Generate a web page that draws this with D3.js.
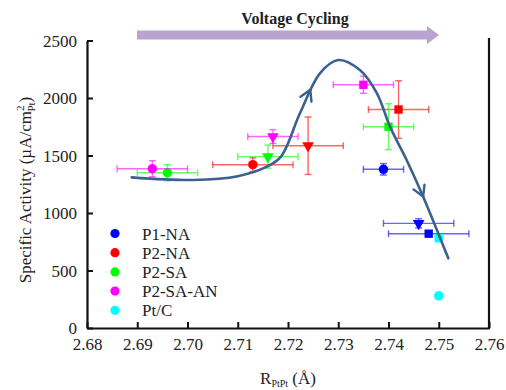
<!DOCTYPE html>
<html lang="en">
  <head>
    <meta charset="utf-8">
    <title>Specific activity vs R PtPt</title>
    <script src="https://d3js.org/d3.v7.min.js"></script>
    <style>
      body { margin: 0; background: #fff; }
      text { font-family: "Liberation Serif", "Times New Roman", serif; fill: #222; }
    </style>
  </head>
  <body>
    <script type="text/javascript">
      var w = 506;
      var h = 390;

      // data
      var seriesNames = ["P1-NA", "P2-NA", "P2-SA", "P2-SA-AN", "Pt/C"];
      var seriesColors = ["#0000ff", "#ff0000", "#00ff00", "#ff00ff", "#00ffff"];
      // each point: marker, R (A), activity, R error, activity error
      var p1na = [["circle", 2.739, 1380, 0.004, 50], ["tri", 2.746, 910, 0.007, 40], ["square", 2.748, 820, 0.008, 0]];
      var p2na = [["circle", 2.713, 1420, 0.008, 60], ["tri", 2.724, 1585, 0.007, 250], ["square", 2.742, 1900, 0.006, 250]];
      var p2sa = [["circle", 2.696, 1350, 0.006, 70], ["tri", 2.716, 1490, 0.006, 100], ["square", 2.740, 1750, 0.005, 200]];
      var p2saan = [["circle", 2.693, 1385, 0.007, 70], ["tri", 2.717, 1665, 0.005, 60], ["square", 2.735, 2115, 0.006, 75]];
      var ptc = [["square", 2.750, 780, 0, 0], ["circle", 2.750, 280, 0, 0]];
      var seriesData = [p1na, p2na, p2sa, p2saan, ptc];

      // trend curve drawn over the points
      var curvePts = [[2.6889, 1310], [2.7012, 1287], [2.7100, 1320], [2.7158, 1403], [2.7186, 1490],
                      [2.7224, 1870], [2.7264, 2217], [2.7300, 2330], [2.7343, 2243], [2.7377, 2041],
                      [2.7403, 1751], [2.7436, 1461], [2.7469, 1142], [2.7519, 606]];

      var xTicks = [2.68, 2.69, 2.70, 2.71, 2.72, 2.73, 2.74, 2.75, 2.76];
      var yTicks = [0, 500, 1000, 1500, 2000, 2500];

      var xScale = d3.scaleLinear().domain([2.68, 2.76]).range([87, 489]);
      var yScale = d3.scaleLinear().domain([0, 2500]).range([328, 40.5]);

      var svg = d3.select("body")
          .append("svg")
          .attr("width", w)
          .attr("height", h);

      // axes
      var xAxis = d3.axisBottom(xScale).tickValues(xTicks).tickFormat(d3.format(".2f"))
          .tickSizeInner(-6).tickSizeOuter(0).tickPadding(10);
      var yAxis = d3.axisLeft(yScale).tickValues(yTicks).tickFormat(d3.format("d"))
          .tickSizeInner(-6).tickSizeOuter(0).tickPadding(10);

      var gx = svg.append("g").attr("transform", "translate(0," + yScale(0) + ")").call(xAxis);
      var gy = svg.append("g").attr("transform", "translate(" + xScale(2.68) + ",0)").call(yAxis);
      [gx, gy].forEach(function(g) {
        g.attr("font-family", "Liberation Serif").attr("font-size", 17);
        g.select(".domain").attr("stroke", "#111").attr("stroke-width", 2.2);
        g.selectAll(".tick line").attr("stroke", "#111").attr("stroke-width", 2);
        g.selectAll(".tick text").attr("fill", "#222");
      });
      gy.selectAll(".tick text").attr("dy", "0.34em");
      svg.append("line")
          .attr("x1", xScale(2.76)).attr("x2", xScale(2.76))
          .attr("y1", 38).attr("y2", yScale(0) + 1)
          .attr("stroke", "#111").attr("stroke-width", 2.2);

      // error bars and markers
      var cap = 3.5;
      seriesData.forEach(function(pts, si) {
        var col = seriesColors[si];
        var g = svg.append("g");
        pts.forEach(function(p) {
          var cx = xScale(p[1]), cy = yScale(p[2]);
          var eb = g.append("g").attr("stroke", col).attr("stroke-opacity", 0.6).attr("stroke-width", 1.4);
          if (p[3] > 0) {
            var x0 = xScale(p[1] - p[3]), x1 = xScale(p[1] + p[3]);
            eb.append("line").attr("x1", x0).attr("x2", x1).attr("y1", cy).attr("y2", cy);
            eb.append("line").attr("x1", x0).attr("x2", x0).attr("y1", cy - cap).attr("y2", cy + cap);
            eb.append("line").attr("x1", x1).attr("x2", x1).attr("y1", cy - cap).attr("y2", cy + cap);
          }
          if (p[4] > 0) {
            var y0 = yScale(p[2] - p[4]), y1 = yScale(p[2] + p[4]);
            eb.append("line").attr("x1", cx).attr("x2", cx).attr("y1", y0).attr("y2", y1);
            eb.append("line").attr("x1", cx - cap).attr("x2", cx + cap).attr("y1", y0).attr("y2", y0);
            eb.append("line").attr("x1", cx - cap).attr("x2", cx + cap).attr("y1", y1).attr("y2", y1);
          }
          var sym = p[0] === "circle" ? d3.symbolCircle : p[0] === "square" ? d3.symbolSquare : d3.symbolTriangle;
          var size = p[0] === "circle" ? 70 : p[0] === "square" ? 70 : 60;
          g.append("path")
              .attr("d", d3.symbol().type(sym).size(size))
              .attr("transform", "translate(" + cx + "," + cy + ")" + (p[0] === "tri" ? " rotate(180)" : ""))
              .attr("fill", col);
        });
      });

      // trend curve with open arrowheads
      var line = d3.line()
          .x(function(d) { return xScale(d[0]); })
          .y(function(d) { return yScale(d[1]); })
          .curve(d3.curveCatmullRom.alpha(0.5));
      var curve = svg.append("path")
          .attr("d", line(curvePts))
          .attr("fill", "none")
          .attr("stroke", "#3a6190")
          .attr("stroke-width", 2.6)
          .attr("stroke-linecap", "round");

      var node = curve.node();
      var total = node.getTotalLength();
      function arrowAt(frac) {
        var L = total * frac;
        var a = node.getPointAtLength(L), b = node.getPointAtLength(L - 3);
        var ang = Math.atan2(a.y - b.y, a.x - b.x);
        var len = 12, spread = Math.PI / 6;
        [ang + Math.PI - spread, ang + Math.PI + spread].forEach(function(t) {
          svg.append("line")
              .attr("x1", a.x).attr("y1", a.y)
              .attr("x2", a.x + len * Math.cos(t)).attr("y2", a.y + len * Math.sin(t))
              .attr("stroke", "#3a6190").attr("stroke-width", 2.4).attr("stroke-linecap", "round");
        });
      }
      // locate arrow positions by x on the rising / falling side of the curve
      function fracAtX(xv, falling) {
        var target = xScale(xv), best = 0, bestD = 1e9;
        for (var i = 0; i <= 400; i++) {
          var pt = node.getPointAtLength(total * i / 400);
          var wrongSide = falling ? pt.y < yScale(1500) : pt.y > yScale(1900);
          var d = Math.abs(pt.x - target) + (wrongSide ? 1000 : 0);
          if (d < bestD) { bestD = d; best = i / 400; }
        }
        return best;
      }
      arrowAt(fracAtX(2.7244, false));
      arrowAt(fracAtX(2.7469, true));

      // voltage cycling arrow
      var ay = 35;
      svg.append("path")
          .attr("d", "M137," + (ay - 4.5) + "H427V" + (ay - 9) + "L439," + ay + "L427," + (ay + 9) + "V" + (ay + 4.5) + "H137Z")
          .attr("fill", "#b9a4cf");
      svg.append("text")
          .attr("x", 295).attr("y", 24)
          .attr("text-anchor", "middle")
          .style("font-size", "16px").style("font-weight", "bold")
          .attr("fill", "#111")
          .text("Voltage Cycling");

      // legend
      var lg = svg.append("g");
      seriesNames.forEach(function(n, i) {
        var y = 233.5 + i * 19.2;
        lg.append("circle").attr("cx", 115).attr("cy", y).attr("r", 4.6).attr("fill", seriesColors[i]);
        lg.append("text").attr("x", 142).attr("y", y + 6).style("font-size", "17px").text(n);
      });

      // axis titles
      var xt = svg.append("text")
          .attr("x", 288).attr("y", 384)
          .attr("text-anchor", "middle")
          .style("font-size", "17px");
      xt.append("tspan").text("R");
      xt.append("tspan").attr("dy", 3).style("font-size", "10px").text("PtPt");
      xt.append("tspan").attr("dy", -3).text(" (Å)");

      var yt = svg.append("text")
          .attr("transform", "translate(31,190) rotate(-90)")
          .attr("text-anchor", "middle")
          .style("font-size", "17px");
      yt.append("tspan").text("Specific Activity (µA/cm");
      yt.append("tspan").attr("dy", -7).style("font-size", "11px").text("2");
      yt.append("tspan").attr("dy", 11).attr("dx", -6).style("font-size", "11px").text("Pt");
      yt.append("tspan").attr("dy", -4).text(")");
    </script>
  </body>
</html>
